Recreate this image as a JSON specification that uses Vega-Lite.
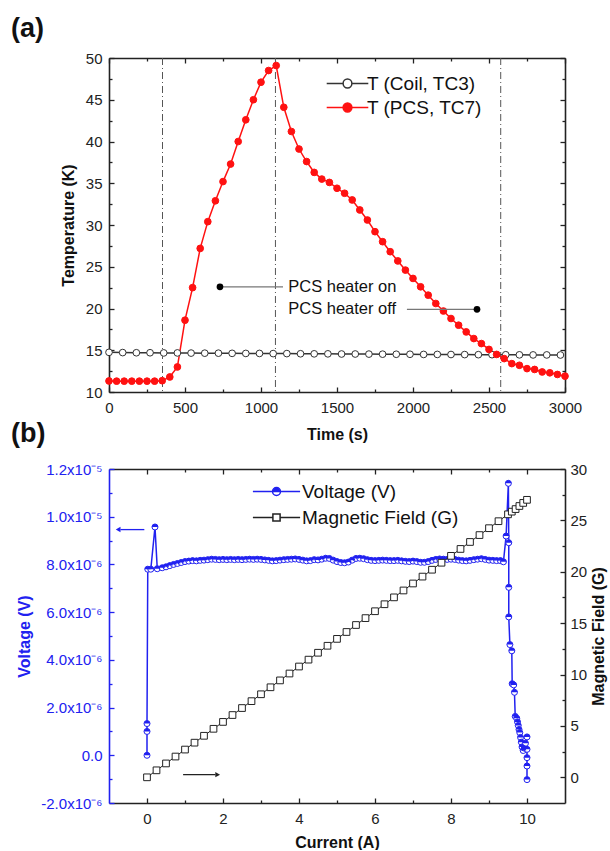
{
  "padding": {"left": 11, "top": 15, "right": 5, "bottom": 0},
  "spacing": 77,
  "bounds": "flush",
  "resolve": {"scale": {"stroke": "independent", "fill": "independent"}},
  "config": {
    "font": "Liberation Sans",
    "view": {"stroke": null},
    "axis": {"labelFont": "Liberation Sans", "labelFontSize": 15, "labelColor": "#222", "titleFont": "Liberation Sans", "titleFontSize": 16, "titleFontWeight": "bold", "titleColor": "#111", "domainColor": "#222", "domainWidth": 1.6, "tickColor": "#222", "tickWidth": 1.3, "grid": false, "labelFlush": false, "labelOverlap": false}
  },
  "datasets": {
    "temp": [
      {"t":0,"T":14.75,"s":"c"},{"t":90,"T":14.72,"s":"c"},{"t":180,"T":14.7,"s":"c"},{"t":270,"T":14.7,"s":"c"},{"t":360,"T":14.68,"s":"c"},{"t":450,"T":14.68,"s":"c"},{"t":540,"T":14.66,"s":"c"},{"t":630,"T":14.65,"s":"c"},{"t":720,"T":14.65,"s":"c"},{"t":810,"T":14.63,"s":"c"},{"t":900,"T":14.62,"s":"c"},{"t":990,"T":14.62,"s":"c"},{"t":1080,"T":14.6,"s":"c"},{"t":1170,"T":14.6,"s":"c"},{"t":1260,"T":14.58,"s":"c"},{"t":1350,"T":14.57,"s":"c"},{"t":1440,"T":14.57,"s":"c"},{"t":1530,"T":14.55,"s":"c"},{"t":1620,"T":14.55,"s":"c"},{"t":1710,"T":14.54,"s":"c"},{"t":1800,"T":14.53,"s":"c"},{"t":1890,"T":14.52,"s":"c"},{"t":1980,"T":14.52,"s":"c"},{"t":2070,"T":14.5,"s":"c"},{"t":2160,"T":14.5,"s":"c"},{"t":2250,"T":14.49,"s":"c"},{"t":2340,"T":14.48,"s":"c"},{"t":2430,"T":14.47,"s":"c"},{"t":2520,"T":14.47,"s":"c"},{"t":2610,"T":14.46,"s":"c"},{"t":2700,"T":14.45,"s":"c"},{"t":2790,"T":14.44,"s":"c"},{"t":2880,"T":14.44,"s":"c"},{"t":2970,"T":14.43,"s":"c"},
      {"t":0,"T":11.32,"s":"p"},{"t":50,"T":11.3,"s":"p"},{"t":100,"T":11.3,"s":"p"},{"t":150,"T":11.3,"s":"p"},{"t":200,"T":11.3,"s":"p"},{"t":250,"T":11.3,"s":"p"},{"t":300,"T":11.3,"s":"p"},{"t":350,"T":11.35,"s":"p"},{"t":400,"T":11.8,"s":"p"},{"t":450,"T":13.0,"s":"p"},{"t":500,"T":18.6,"s":"p"},{"t":550,"T":22.5,"s":"p"},{"t":600,"T":27.2,"s":"p"},{"t":650,"T":30.4,"s":"p"},{"t":700,"T":32.9,"s":"p"},{"t":750,"T":35.2,"s":"p"},{"t":800,"T":37.3,"s":"p"},{"t":850,"T":40.0,"s":"p"},{"t":900,"T":42.6,"s":"p"},{"t":950,"T":45.0,"s":"p"},{"t":1000,"T":47.1,"s":"p"},{"t":1050,"T":48.5,"s":"p"},{"t":1100,"T":49.1,"s":"p"},{"t":1150,"T":44.1,"s":"p"},{"t":1200,"T":41.2,"s":"p"},{"t":1250,"T":39.1,"s":"p"},{"t":1300,"T":37.6,"s":"p"},{"t":1350,"T":36.3,"s":"p"},{"t":1400,"T":35.5,"s":"p"},{"t":1450,"T":35.1,"s":"p"},{"t":1500,"T":34.4,"s":"p"},{"t":1550,"T":33.8,"s":"p"},{"t":1600,"T":33.0,"s":"p"},{"t":1650,"T":31.8,"s":"p"},{"t":1700,"T":30.6,"s":"p"},{"t":1750,"T":29.2,"s":"p"},{"t":1800,"T":28.0,"s":"p"},{"t":1850,"T":26.8,"s":"p"},{"t":1900,"T":25.7,"s":"p"},{"t":1950,"T":24.6,"s":"p"},{"t":2000,"T":23.6,"s":"p"},{"t":2050,"T":22.6,"s":"p"},{"t":2100,"T":21.6,"s":"p"},{"t":2150,"T":20.6,"s":"p"},{"t":2200,"T":19.7,"s":"p"},{"t":2250,"T":18.8,"s":"p"},{"t":2300,"T":18.0,"s":"p"},{"t":2350,"T":17.2,"s":"p"},{"t":2400,"T":16.4,"s":"p"},{"t":2450,"T":15.8,"s":"p"},{"t":2500,"T":15.1,"s":"p"},{"t":2550,"T":14.5,"s":"p"},{"t":2600,"T":14.0,"s":"p"},{"t":2650,"T":13.4,"s":"p"},{"t":2700,"T":13.2,"s":"p"},{"t":2750,"T":12.8,"s":"p"},{"t":2800,"T":12.7,"s":"p"},{"t":2850,"T":12.4,"s":"p"},{"t":2900,"T":12.3,"s":"p"},{"t":2950,"T":12.1,"s":"p"},{"t":3000,"T":11.9,"s":"p"}
    ],
    "volt": [
      {"I":0,"V":0,"o":1},{"I":0,"V":1.0e-6,"o":2},{"I":0,"V":1.33e-6,"o":3},{"I":0.02,"V":7.8e-6,"o":4},{"I":0.1,"V":7.8e-6,"o":5},{"I":0.21,"V":9.57e-6,"o":6},{"I":0.27,"V":7.82e-6,"o":7},
      {"I":0.4,"V":7.86e-6,"o":8},{"I":0.5,"V":7.9e-6,"o":9},{"I":0.6,"V":7.95e-6,"o":10},{"I":0.7,"V":8.0e-6,"o":11},{"I":0.8,"V":8.04e-6,"o":12},{"I":0.9,"V":8.08e-6,"o":13},{"I":1.0,"V":8.12e-6,"o":14},{"I":1.1,"V":8.14e-6,"o":15},{"I":1.2,"V":8.16e-6,"o":16},{"I":1.3,"V":8.15e-6,"o":17},{"I":1.4,"V":8.17e-6,"o":18},{"I":1.5,"V":8.18e-6,"o":19},{"I":1.6,"V":8.2e-6,"o":20},{"I":1.7,"V":8.22e-6,"o":21},{"I":1.8,"V":8.21e-6,"o":22},{"I":1.9,"V":8.2e-6,"o":23},{"I":2.0,"V":8.21e-6,"o":24},{"I":2.1,"V":8.2e-6,"o":25},{"I":2.2,"V":8.21e-6,"o":26},{"I":2.3,"V":8.2e-6,"o":27},{"I":2.4,"V":8.21e-6,"o":28},{"I":2.5,"V":8.2e-6,"o":29},{"I":2.6,"V":8.21e-6,"o":30},{"I":2.7,"V":8.22e-6,"o":31},{"I":2.8,"V":8.21e-6,"o":32},{"I":2.9,"V":8.22e-6,"o":33},{"I":3.0,"V":8.21e-6,"o":34},{"I":3.1,"V":8.19e-6,"o":35},{"I":3.2,"V":8.17e-6,"o":36},{"I":3.3,"V":8.15e-6,"o":37},{"I":3.4,"V":8.16e-6,"o":38},{"I":3.5,"V":8.18e-6,"o":39},{"I":3.6,"V":8.2e-6,"o":40},{"I":3.7,"V":8.21e-6,"o":41},{"I":3.8,"V":8.22e-6,"o":42},{"I":3.9,"V":8.23e-6,"o":43},{"I":4.0,"V":8.21e-6,"o":44},{"I":4.1,"V":8.18e-6,"o":45},{"I":4.2,"V":8.15e-6,"o":46},{"I":4.3,"V":8.16e-6,"o":47},{"I":4.4,"V":8.2e-6,"o":48},{"I":4.5,"V":8.19e-6,"o":49},{"I":4.6,"V":8.22e-6,"o":50},{"I":4.7,"V":8.26e-6,"o":51},{"I":4.8,"V":8.25e-6,"o":52},{"I":4.9,"V":8.18e-6,"o":53},{"I":5.0,"V":8.12e-6,"o":54},{"I":5.1,"V":8.08e-6,"o":55},{"I":5.2,"V":8.07e-6,"o":56},{"I":5.3,"V":8.1e-6,"o":57},{"I":5.4,"V":8.18e-6,"o":58},{"I":5.5,"V":8.25e-6,"o":59},{"I":5.6,"V":8.26e-6,"o":60},{"I":5.7,"V":8.24e-6,"o":61},{"I":5.8,"V":8.2e-6,"o":62},{"I":5.9,"V":8.17e-6,"o":63},{"I":6.0,"V":8.16e-6,"o":64},{"I":6.1,"V":8.17e-6,"o":65},{"I":6.2,"V":8.18e-6,"o":66},{"I":6.3,"V":8.17e-6,"o":67},{"I":6.4,"V":8.16e-6,"o":68},{"I":6.5,"V":8.16e-6,"o":69},{"I":6.6,"V":8.17e-6,"o":70},{"I":6.7,"V":8.15e-6,"o":71},{"I":6.8,"V":8.13e-6,"o":72},{"I":6.9,"V":8.12e-6,"o":73},{"I":7.0,"V":8.14e-6,"o":74},{"I":7.1,"V":8.12e-6,"o":75},{"I":7.2,"V":8.09e-6,"o":76},{"I":7.3,"V":8.09e-6,"o":77},{"I":7.4,"V":8.12e-6,"o":78},{"I":7.5,"V":8.17e-6,"o":79},{"I":7.6,"V":8.21e-6,"o":80},{"I":7.7,"V":8.23e-6,"o":81},{"I":7.8,"V":8.22e-6,"o":82},{"I":7.9,"V":8.21e-6,"o":83},{"I":8.0,"V":8.22e-6,"o":84},{"I":8.1,"V":8.21e-6,"o":85},{"I":8.2,"V":8.18e-6,"o":86},{"I":8.3,"V":8.16e-6,"o":87},{"I":8.4,"V":8.15e-6,"o":88},{"I":8.5,"V":8.17e-6,"o":89},{"I":8.6,"V":8.2e-6,"o":90},{"I":8.7,"V":8.22e-6,"o":91},{"I":8.8,"V":8.24e-6,"o":92},{"I":8.9,"V":8.21e-6,"o":93},{"I":9.0,"V":8.18e-6,"o":94},{"I":9.1,"V":8.17e-6,"o":95},{"I":9.2,"V":8.16e-6,"o":96},{"I":9.3,"V":8.16e-6,"o":97},
      {"I":9.38,"V":8.11e-6,"o":98},{"I":9.45,"V":9.19e-6,"o":99},{"I":9.51,"V":1.14e-5,"o":100},{"I":9.52,"V":8.91e-6,"o":101},{"I":9.52,"V":7.04e-6,"o":102},{"I":9.52,"V":5.8e-6,"o":103},{"I":9.55,"V":4.64e-6,"o":104},{"I":9.6,"V":4.38e-6,"o":105},{"I":9.61,"V":3.0e-6,"o":106},{"I":9.65,"V":2.95e-6,"o":107},{"I":9.67,"V":2.64e-6,"o":108},{"I":9.69,"V":1.63e-6,"o":109},{"I":9.73,"V":1.55e-6,"o":110},{"I":9.75,"V":1.4e-6,"o":111},{"I":9.77,"V":1.25e-6,"o":112},{"I":9.79,"V":1.08e-6,"o":113},{"I":9.81,"V":9.5e-7,"o":114},{"I":9.83,"V":7.5e-7,"o":115},{"I":9.85,"V":5.5e-7,"o":116},{"I":9.87,"V":3.5e-7,"o":117},{"I":9.9,"V":2.0e-7,"o":118},{"I":9.93,"V":3.0e-7,"o":119},{"I":9.96,"V":5.0e-7,"o":120},{"I":10.0,"V":7.7e-7,"o":121},{"I":10.0,"V":2.5e-7,"o":122},{"I":10.0,"V":-1.0e-7,"o":123},{"I":10.0,"V":-4.5e-7,"o":124},{"I":10.0,"V":-1.02e-6,"o":125}
    ],
    "field": [
      {"I":0,"B":0},{"I":0.25,"B":0.68},{"I":0.5,"B":1.35},{"I":0.75,"B":2.02},{"I":1.0,"B":2.7},{"I":1.25,"B":3.37},{"I":1.5,"B":4.04},{"I":1.75,"B":4.72},{"I":2.0,"B":5.39},{"I":2.25,"B":6.06},{"I":2.5,"B":6.74},{"I":2.75,"B":7.41},{"I":3.0,"B":8.08},{"I":3.25,"B":8.76},{"I":3.5,"B":9.43},{"I":3.75,"B":10.1},{"I":4.0,"B":10.78},{"I":4.25,"B":11.45},{"I":4.5,"B":12.12},{"I":4.75,"B":12.8},{"I":5.0,"B":13.47},{"I":5.25,"B":14.14},{"I":5.5,"B":14.82},{"I":5.75,"B":15.49},{"I":6.0,"B":16.16},{"I":6.25,"B":16.84},{"I":6.5,"B":17.51},{"I":6.75,"B":18.18},{"I":7.0,"B":18.86},{"I":7.25,"B":19.53},{"I":7.5,"B":20.2},{"I":7.75,"B":20.88},{"I":8.0,"B":21.55},{"I":8.25,"B":22.22},{"I":8.5,"B":22.9},{"I":8.75,"B":23.57},{"I":9.0,"B":24.24},{"I":9.25,"B":24.92},{"I":9.5,"B":25.59},{"I":9.6,"B":25.85},{"I":9.7,"B":26.1},{"I":9.8,"B":26.4},{"I":9.9,"B":26.7},{"I":10.0,"B":27.0}
    ]
  },
  "vconcat": [
    {
      "width": 456, "height": 334,
      "title": {"text": "(a)", "anchor": "start", "frame": "group", "dx": -98, "offset": 8, "fontSize": 27, "fontWeight": "bold", "font": "Liberation Sans", "color": "#111"},
      "layer": [
        {
          "data": {"values": [{"t": 352}, {"t": 1095}, {"t": 2577}]},
          "mark": {"type": "rule", "color": "#555", "strokeWidth": 1, "strokeDash": [7, 3, 1, 3]},
          "encoding": {
            "x": {"field": "t", "type": "quantitative", "scale": {"domain": [0, 3000], "nice": false},
              "axis": {"orient": "top", "values": [0,250,500,750,1000,1250,1500,1750,2000,2250,2500,2750,3000], "labels": false, "title": null, "tickSize": {"condition": {"test": "datum.value % 500 === 0", "value": -5}, "value": -3}}}
          }
        },
        {
          "data": {"name": "temp"},
          "mark": {"type": "line", "strokeWidth": 1.5},
          "encoding": {
            "x": {"field": "t", "type": "quantitative", "scale": {"domain": [0, 3000], "nice": false},
              "axis": {"orient": "bottom", "values": [0,250,500,750,1000,1250,1500,1750,2000,2250,2500,2750,3000], "format": "d", "labelExpr": "datum.value % 500 === 0 ? datum.label : ''", "tickSize": {"condition": {"test": "datum.value % 500 === 0", "value": -5}, "value": -3}, "labelPadding": 13, "title": "Time (s)", "titlePadding": 9}},
            "y": {"field": "T", "type": "quantitative", "scale": {"domain": [10, 50], "nice": false, "zero": false},
              "axis": {"orient": "left", "values": [10,12.5,15,17.5,20,22.5,25,27.5,30,32.5,35,37.5,40,42.5,45,47.5,50], "format": "d", "labelExpr": "datum.value % 5 === 0 ? datum.label : ''", "tickSize": {"condition": {"test": "datum.value % 5 === 0", "value": -5}, "value": -3}, "labelPadding": 12, "title": "Temperature (K)", "titlePadding": 9}},
            "stroke": {"field": "s", "type": "nominal", "scale": {"domain": ["c", "p"], "range": ["#333333", "#ff1111"]},
              "legend": {"orient": "none", "legendX": 229, "legendY": 16, "title": null, "padding": 0, "labelFont": "Liberation Sans", "labelFontSize": 19, "labelColor": "#111", "symbolSize": 64, "symbolStrokeWidth": 1.5, "labelOffset": 10, "rowPadding": 4,
                "labelExpr": "datum.value === 'c' ? 'T (Coil, TC3)' : 'T (PCS, TC7)'",
                "symbolType": "M-5.2,0 L-1.1,0 M1.1,0 L5.2,0 M-1.1,0 A1.1,1.1 0 1,1 1.1,0 A1.1,1.1 0 1,1 -1.1,0 Z",
                "encode": {"symbols": {"update": {"fill": {"signal": "datum.value === 'c' ? '#ffffff' : '#ff1111'"}}}}}}
          }
        },
        {
          "data": {"name": "temp"},
          "mark": {"type": "point", "shape": "circle", "size": 45, "strokeWidth": 1, "opacity": 1},
          "encoding": {
            "x": {"field": "t", "type": "quantitative", "scale": {"domain": [0, 3000], "nice": false}, "axis": null},
            "y": {"field": "T", "type": "quantitative", "scale": {"domain": [10, 50], "nice": false, "zero": false}, "axis": null},
            "stroke": {"field": "s", "type": "nominal", "scale": {"domain": ["c", "p"], "range": ["#333333", "#ff1111"]}, "legend": null},
            "fill": {"field": "s", "type": "nominal", "scale": {"domain": ["c", "p"], "range": ["#ffffff", "#ff1111"]}, "legend": null}
          }
        },
        {
          "data": {"values": [{"a": 730, "b": 1145, "T": 22.6}, {"a": 1960, "b": 2421, "T": 19.9}]},
          "mark": {"type": "rule", "color": "#777", "strokeWidth": 1.2},
          "encoding": {
            "x": {"field": "a", "type": "quantitative", "scale": {"domain": [0, 3000], "nice": false}, "axis": null},
            "x2": {"field": "b"},
            "y": {"field": "T", "type": "quantitative", "scale": {"domain": [10, 50], "nice": false, "zero": false}, "axis": null}
          }
        },
        {
          "data": {"values": [{"t": 730, "T": 22.6}, {"t": 2421, "T": 19.9}]},
          "mark": {"type": "point", "shape": "circle", "filled": true, "color": "#000", "size": 45, "opacity": 1},
          "encoding": {
            "x": {"field": "t", "type": "quantitative", "scale": {"domain": [0, 3000], "nice": false}, "axis": null},
            "y": {"field": "T", "type": "quantitative", "scale": {"domain": [10, 50], "nice": false, "zero": false},
              "axis": {"orient": "right", "values": [10,12.5,15,17.5,20,22.5,25,27.5,30,32.5,35,37.5,40,42.5,45,47.5,50], "labels": false, "title": null, "tickSize": {"condition": {"test": "datum.value % 5 === 0", "value": -5}, "value": -3}}}
          }
        },
        {
          "data": {"values": [{"t": 1179, "T": 22.6, "label": "PCS heater on"}, {"t": 1179, "T": 19.9, "label": "PCS heater off"}]},
          "mark": {"type": "text", "align": "left", "baseline": "middle", "fontSize": 16.5, "font": "Liberation Sans", "color": "#111"},
          "encoding": {
            "x": {"field": "t", "type": "quantitative", "scale": {"domain": [0, 3000], "nice": false}, "axis": null},
            "y": {"field": "T", "type": "quantitative", "scale": {"domain": [10, 50], "nice": false, "zero": false}, "axis": null},
            "text": {"field": "label"}
          }
        }
      ]
    },
    {
      "width": 456, "height": 334,
      "title": {"text": "(b)", "anchor": "start", "frame": "group", "dx": -98, "offset": 14, "fontSize": 27, "fontWeight": "bold", "font": "Liberation Sans", "color": "#111"},
      "resolve": {"scale": {"y": "independent"}},
      "layer": [
        {
          "data": {"name": "volt"},
          "mark": {"type": "line", "strokeWidth": 1.5},
          "encoding": {
            "x": {"field": "I", "type": "quantitative", "scale": {"domain": [-1, 11], "nice": false}, "axis": null},
            "y": {"field": "V", "type": "quantitative", "scale": {"domain": [-0.000002, 0.000012], "nice": false}, "axis": null},
            "order": {"field": "o"},
            "stroke": {"datum": "Voltage (V)", "type": "nominal", "scale": {"domain": ["Voltage (V)", "Magnetic Field (G)"], "range": ["#2121f0", "#222222"]},
              "legend": {"orient": "none", "legendX": 158, "legendY": 13, "title": null, "padding": 0, "labelFont": "Liberation Sans", "labelFontSize": 19, "labelColor": "#111", "symbolSize": 64, "symbolStrokeWidth": 1.5, "labelOffset": 16, "rowPadding": 6,
                "encode": {"symbols": {"update": {
                  "shape": {"signal": "datum.value === 'Voltage (V)' ? 'M-5.9,0 L-1,0 M1,0 L5.9,0 M-1,0 A1,1 0 0,1 1,0 Z M1,0 A1,1 0 0,1 -1,0 A1,1 0 0,0 1,0' : 'M-5.9,0 L-0.9,0 M0.9,0 L5.9,0 M-0.9,-0.9 L0.9,-0.9 L0.9,0.9 L-0.9,0.9 Z'"},
                  "fill": {"signal": "datum.value === 'Voltage (V)' ? '#2121f0' : '#ffffff'"}}}}}}
          }
        },
        {
          "data": {"name": "volt"},
          "mark": {"type": "point", "shape": "circle", "size": 36, "filled": true, "fill": "#ffffff", "stroke": "#2121f0", "strokeWidth": 1, "opacity": 1},
          "encoding": {
            "x": {"field": "I", "type": "quantitative", "scale": {"domain": [-1, 11], "nice": false},
              "axis": {"orient": "bottom", "values": [0,1,2,3,4,5,6,7,8,9,10], "format": "d", "labelExpr": "datum.value % 2 === 0 ? datum.label : ''", "tickSize": {"condition": {"test": "datum.value % 2 === 0", "value": -5}, "value": -3}, "labelPadding": 13, "title": "Current (A)", "titlePadding": 6}},
            "y": {"field": "V", "type": "quantitative", "scale": {"domain": [-0.000002, 0.000012], "nice": false},
              "axis": {"orient": "left", "values": [-0.000002,-0.000001,0,0.000001,0.000002,0.000003,0.000004,0.000005,0.000006,0.000007,0.000008,0.000009,0.00001,0.000011,0.000012],
                "labelExpr": "round(datum.value*1e6) % 2 !== 0 ? '' : (round(datum.value*1e6) === 0 ? '0.0' : ((datum.value < 0 ? '-' : '') + (abs(round(datum.value*1e6)) >= 10 ? format(abs(datum.value)*1e5, '.1f') + 'x10⁻⁵' : format(abs(datum.value)*1e6, '.1f') + 'x10⁻⁶')))",
                "tickSize": {"condition": {"test": "round(datum.value*1e6) % 2 === 0", "value": -5}, "value": -3}, "labelPadding": 12, "title": "Voltage (V)", "titlePadding": 8,
                "domainColor": "#2121f0", "tickColor": "#2121f0", "labelColor": "#2121f0", "titleColor": "#2121f0"}}
          }
        },
        {
          "data": {"name": "volt"},
          "mark": {"type": "point", "shape": "M-1,0 A1,1 0 0,1 1,0 Z", "size": 36, "filled": true, "color": "#2121f0", "opacity": 1},
          "encoding": {
            "x": {"field": "I", "type": "quantitative", "scale": {"domain": [-1, 11], "nice": false}, "axis": null},
            "y": {"field": "V", "type": "quantitative", "scale": {"domain": [-0.000002, 0.000012], "nice": false}, "axis": null}
          }
        },
        {
          "data": {"values": [{"a": -0.07, "b": -0.7, "V": 0.00000946}]},
          "mark": {"type": "rule", "color": "#2121f0", "strokeWidth": 1.3},
          "encoding": {
            "x": {"field": "a", "type": "quantitative", "scale": {"domain": [-1, 11], "nice": false},
              "axis": {"orient": "top", "values": [0,1,2,3,4,5,6,7,8,9,10], "labels": false, "title": null, "tickSize": {"condition": {"test": "datum.value % 2 === 0", "value": -5}, "value": -3}}},
            "x2": {"field": "b"},
            "y": {"field": "V", "type": "quantitative", "scale": {"domain": [-0.000002, 0.000012], "nice": false}, "axis": null}
          }
        },
        {
          "data": {"values": [{"I": -0.76, "V": 0.00000946}]},
          "mark": {"type": "point", "shape": "triangle-left", "filled": true, "color": "#2121f0", "size": 30, "opacity": 1},
          "encoding": {
            "x": {"field": "I", "type": "quantitative", "scale": {"domain": [-1, 11], "nice": false}, "axis": null},
            "y": {"field": "V", "type": "quantitative", "scale": {"domain": [-0.000002, 0.000012], "nice": false}, "axis": null}
          }
        },
        {
          "data": {"name": "field"},
          "mark": {"type": "line", "strokeWidth": 1},
          "encoding": {
            "x": {"field": "I", "type": "quantitative", "scale": {"domain": [-1, 11], "nice": false}, "axis": null},
            "y": {"field": "B", "type": "quantitative", "scale": {"domain": [-2.5, 30], "nice": false, "zero": false},
              "axis": {"orient": "right", "values": [0,2.5,5,7.5,10,12.5,15,17.5,20,22.5,25,27.5,30], "format": "d", "labelExpr": "datum.value % 5 === 0 ? datum.label : ''", "tickSize": {"condition": {"test": "datum.value % 5 === 0", "value": -5}, "value": -3}, "labelPadding": 10, "title": "Magnetic Field (G)", "titlePadding": 4, "titleAngle": 270, "titleBaseline": "top"}},
            "stroke": {"datum": "Magnetic Field (G)", "type": "nominal", "scale": {"domain": ["Voltage (V)", "Magnetic Field (G)"], "range": ["#2121f0", "#222222"]}, "legend": null}
          }
        },
        {
          "data": {"name": "field"},
          "mark": {"type": "point", "shape": "square", "size": 45, "filled": true, "fill": "#ffffff", "stroke": "#222222", "strokeWidth": 1, "opacity": 1},
          "encoding": {
            "x": {"field": "I", "type": "quantitative", "scale": {"domain": [-1, 11], "nice": false}, "axis": null},
            "y": {"field": "B", "type": "quantitative", "scale": {"domain": [-2.5, 30], "nice": false, "zero": false}, "axis": null}
          }
        },
        {
          "data": {"values": [{"a": 0.95, "b": 1.8, "B": 0.26}]},
          "mark": {"type": "rule", "color": "#222222", "strokeWidth": 1.3},
          "encoding": {
            "x": {"field": "a", "type": "quantitative", "scale": {"domain": [-1, 11], "nice": false}, "axis": null},
            "x2": {"field": "b"},
            "y": {"field": "B", "type": "quantitative", "scale": {"domain": [-2.5, 30], "nice": false, "zero": false}, "axis": null}
          }
        },
        {
          "data": {"values": [{"I": 1.86, "B": 0.26}]},
          "mark": {"type": "point", "shape": "triangle-right", "filled": true, "color": "#222222", "size": 30, "opacity": 1},
          "encoding": {
            "x": {"field": "I", "type": "quantitative", "scale": {"domain": [-1, 11], "nice": false}, "axis": null},
            "y": {"field": "B", "type": "quantitative", "scale": {"domain": [-2.5, 30], "nice": false, "zero": false}, "axis": null}
          }
        }
      ]
    }
  ]
}
